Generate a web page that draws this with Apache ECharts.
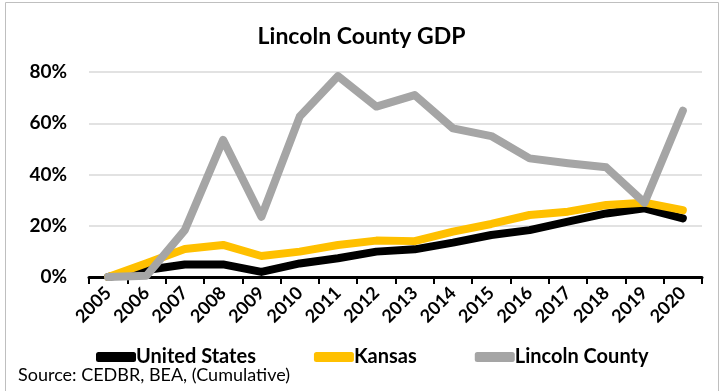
<!DOCTYPE html>
<html lang="en">
<head>
    <meta charset="utf-8">
    <title>Lincoln County GDP</title>
    <script src="https://cdn.jsdelivr.net/npm/echarts@6/dist/echarts.min.js"></script>
    <style>
        html, body { margin: 0; padding: 0; background: #fff; }
        #chart { width: 723px; height: 391px; }
    </style>
</head>
<body>
<div id="chart"></div>
<script>
    var years = ['2005', '2006', '2007', '2008', '2009', '2010', '2011', '2012',
                 '2013', '2014', '2015', '2016', '2017', '2018', '2019', '2020'];
    var unitedStates = [0, 2.7, 4.9, 4.9, 2.0, 5.3, 7.3, 9.9, 10.8, 13.4, 16.4, 18.3, 21.6, 24.8, 26.8, 22.9];
    var kansas = [0, 5.4, 10.9, 12.5, 8.2, 9.9, 12.5, 14.2, 14.0, 17.7, 20.7, 24.2, 25.5, 28.1, 29.0, 26.1];
    var lincolnCounty = [0, 0.5, 18.3, 53.5, 23.5, 62.6, 78.4, 66.5, 71.0, 58.0, 55.0, 46.3, 44.4, 42.8, 29.0, 64.9];

    var font = 'Lato, "Noto Sans", sans-serif';

    function lineSeries(name, data, color) {
        return {
            name: name,
            type: 'line',
            data: data,
            symbol: 'none',
            lineStyle: { color: color, width: 8, cap: 'round', join: 'round' },
            itemStyle: { color: color }
        };
    }

    var chart = echarts.init(document.getElementById('chart'));
    chart.setOption({
        animation: false,
        textStyle: { fontFamily: font },
        title: {
            text: 'Lincoln County GDP',
            left: 'center',
            top: 20,
            textStyle: { fontFamily: font, fontSize: 23, fontWeight: 'bold', color: '#000' }
        },
        legend: {
            left: 91,
            top: 342,
            itemGap: 58,
            itemWidth: 40,
            itemHeight: 10,
            icon: 'roundRect',
            textStyle: { fontFamily: font, fontSize: 20, fontWeight: 'bold', color: '#000', padding: [0, 0, 0, -5] },
            data: ['United States', 'Kansas', 'Lincoln County']
        },
        grid: { left: 89, right: 21, top: 72, bottom: 114 },
        xAxis: {
            type: 'category',
            data: years,
            boundaryGap: true,
            axisLine: { lineStyle: { color: '#000', width: 3 } },
            axisTick: { show: true, length: 7, lineStyle: { color: '#000', width: 2 } },
            axisLabel: {
                rotate: 45,
                margin: 13,
                color: '#000',
                fontFamily: font,
                fontSize: 18,
                fontWeight: 'bold',
                interval: 0
            }
        },
        yAxis: {
            type: 'value',
            min: 0,
            max: 80,
            interval: 20,
            axisLine: { show: false },
            axisTick: { show: false },
            axisLabel: {
                formatter: '{value}%',
                margin: 22,
                color: '#000',
                fontFamily: font,
                fontSize: 19,
                fontWeight: 'bold'
            },
            splitLine: { lineStyle: { color: '#d9d9d9', width: 1.5 } }
        },
        graphic: [
            {
                type: 'rect',
                shape: { x: 5.5, y: 2.5, width: 713, height: 400 },
                style: { fill: 'none', stroke: '#bfbfbf', lineWidth: 1 },
                silent: true
            },
            {
                type: 'text',
                left: 18,
                top: 366,
                style: { text: 'Source: CEDBR, BEA, (Cumulative)', fontFamily: font, fontSize: 18, fill: '#000' }
            }
        ],
        series: [
            lineSeries('United States', unitedStates, '#000000'),
            lineSeries('Kansas', kansas, '#ffc000'),
            lineSeries('Lincoln County', lincolnCounty, '#a5a5a5')
        ]
    });
</script>
</body>
</html>
